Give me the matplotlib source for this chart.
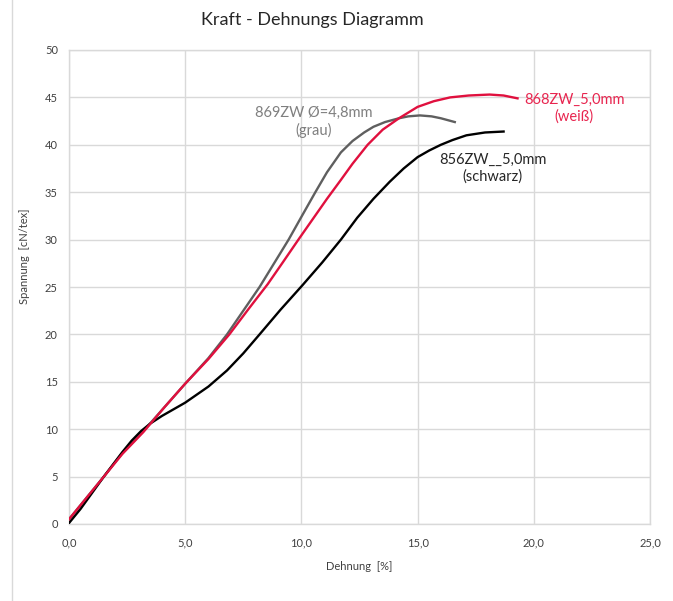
import matplotlib
matplotlib.use("Agg")
import matplotlib.pyplot as plt
from matplotlib.lines import Line2D

plt.rcParams["font.family"] = ["Lato", "DejaVu Sans"]

# Dehnung [%] / Spannung [cN/tex]
grau_x = [0.0, 0.5, 1.5, 2.3, 3.2, 4.1, 5.0, 6.0, 6.8, 7.5, 8.2, 8.8, 9.45, 10.0, 10.6, 11.1, 11.7, 12.2, 12.7, 13.1, 13.6, 14.2, 14.6, 15.1, 15.6, 16.0, 16.6]
grau_y = [0.5, 2.0, 5.0, 7.5, 9.8, 12.3, 14.8, 17.5, 20.0, 22.5, 25.0, 27.4, 30.0, 32.4, 35.0, 37.1, 39.2, 40.4, 41.3, 41.9, 42.4, 42.8, 43.0, 43.1, 43.0, 42.8, 42.4]

weiss_x = [0.0, 0.5, 1.5, 2.3, 3.2, 4.1, 5.0, 6.0, 6.9, 7.7, 8.55, 9.2, 9.9, 10.5, 11.1, 11.7, 12.2, 12.85, 13.5, 14.2, 15.0, 15.7, 16.4, 17.2, 18.1, 18.7, 19.3]
weiss_y = [0.5, 2.0, 5.0, 7.4, 9.7, 12.3, 14.8, 17.4, 20.0, 22.6, 25.3, 27.6, 30.1, 32.2, 34.3, 36.3, 38.0, 40.0, 41.6, 42.8, 44.0, 44.6, 45.0, 45.2, 45.3, 45.2, 44.9]

schwarz_x = [0.0, 0.5, 1.5, 2.3, 2.7, 3.1, 3.5, 4.0, 5.0, 6.0, 6.8, 7.5, 8.2, 9.1, 10.05, 10.9, 11.7, 12.4, 13.1, 13.8, 14.4, 15.0, 15.5, 16.0, 16.5, 17.1, 17.9, 18.7]
schwarz_y = [0.1, 1.6, 5.0, 7.6, 8.8, 9.8, 10.6, 11.4, 12.8, 14.5, 16.2, 18.0, 20.0, 22.6, 25.2, 27.6, 30.0, 32.3, 34.3, 36.1, 37.5, 38.7, 39.4, 40.0, 40.5, 41.0, 41.3, 41.4]

x_ticks = [0, 5, 10, 15, 20, 25]
x_labels = ["0,0", "5,0", "10,0", "15,0", "20,0", "25,0"]
y_ticks = [0, 5, 10, 15, 20, 25, 30, 35, 40, 45, 50]

fig = plt.figure(figsize=(6.73, 6.01), dpi=100)
ax = fig.add_axes([69 / 673, 1 - 524 / 601, 581 / 673, 474 / 601])

ax.plot(grau_x, grau_y, color="#5f5f5f", lw=1.7, zorder=3)
ax.plot(weiss_x, weiss_y, color="#e0103e", lw=1.7, zorder=4)
ax.plot(schwarz_x, schwarz_y, color="#000000", lw=1.7, zorder=3)

ax.set_xlim(0, 25)
ax.set_ylim(0, 50)
ax.set_xticks(x_ticks)
ax.set_xticklabels(x_labels)
ax.set_yticks(y_ticks)
ax.grid(True, color="#d9d9d9", lw=1.0)
ax.set_axisbelow(True)
for s in ax.spines.values():
    s.set_color("#d9d9d9")
    s.set_linewidth(1.0)
ax.tick_params(length=0, labelsize=8, labelcolor="#404040")
ax.tick_params(axis="y", pad=8)
ax.tick_params(axis="x", pad=10)

ax.text(10.54, 42.45, "869ZW Ø=4,8mm\n(grau)", color="#7f7f7f", fontsize=10.5,
        ha="center", va="center", linespacing=1.25)
ax.text(21.73, 43.85, "868ZW_5,0mm\n(weiß)", color="#e8254f", fontsize=10.5,
        ha="center", va="center", linespacing=1.25, clip_on=False)
ax.text(18.24, 37.5, "856ZW__5,0mm\n(schwarz)", color="#262626", fontsize=10.5,
        ha="center", va="center", linespacing=1.25)

fig.text(312 / 673, 1 - 20 / 601, "Kraft - Dehnungs Diagramm", fontsize=13,
         color="#262626", ha="center", va="center")
fig.text(359 / 673, 1 - 566 / 601, "Dehnung  [%]", fontsize=8, color="#404040",
         ha="center", va="center")
fig.text(25 / 673, 1 - 256 / 601, "Spannung  [cN/tex]", fontsize=8, color="#404040",
         ha="center", va="center", rotation=90)

fig.add_artist(Line2D([12 / 673, 12 / 673], [0, 1], color="#d9d9d9", lw=1.0))

fig.savefig("out.png", dpi=100)
